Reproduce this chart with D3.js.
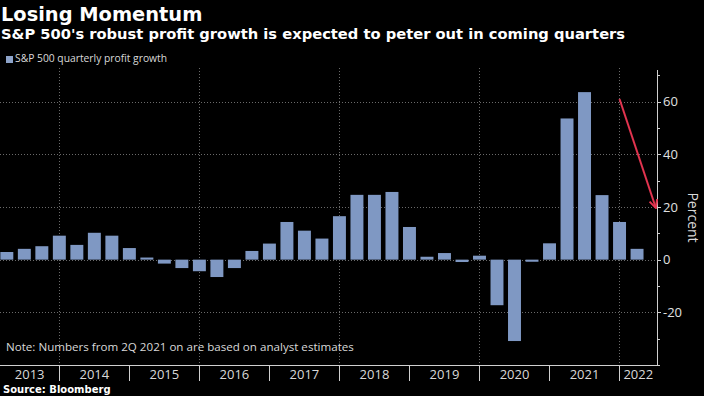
<!DOCTYPE html>
<meta charset="utf-8">
<style>
body { margin: 0; background: #000; }
svg { display: block; background: #000; }
.title { font-family: "DejaVu Sans", Verdana, sans-serif; font-weight: bold; fill: #fff; }
.lbl { font-family: "Open Sans", sans-serif; fill: #d9d9d9; }
.grid line { stroke: #6a6a6a; stroke-width: 1; stroke-dasharray: 1,2; shape-rendering: crispEdges; }
.yaxis path, .yaxis line, .xaxis line { stroke: #d0d0d0; shape-rendering: crispEdges; }
.yaxis text { font-family: "Open Sans", sans-serif; font-size: 13px; fill: #e0e0e0; }
.bar { fill: #7f98c3; }
</style>
<body>
<svg width="704" height="396"></svg>
<script src="https://d3js.org/d3.v7.min.js"></script>
<script>
// quarterly S&P 500 profit growth, %, 1Q 2013 .. 1Q 2022
var quarters = ["1Q 2013","2Q 2013","3Q 2013","4Q 2013",
                "1Q 2014","2Q 2014","3Q 2014","4Q 2014",
                "1Q 2015","2Q 2015","3Q 2015","4Q 2015",
                "1Q 2016","2Q 2016","3Q 2016","4Q 2016",
                "1Q 2017","2Q 2017","3Q 2017","4Q 2017",
                "1Q 2018","2Q 2018","3Q 2018","4Q 2018",
                "1Q 2019","2Q 2019","3Q 2019","4Q 2019",
                "1Q 2020","2Q 2020","3Q 2020","4Q 2020",
                "1Q 2021","2Q 2021","3Q 2021","4Q 2021",
                "1Q 2022"];
var growth = [2.9, 4.1, 5.1, 9.1,
              5.6, 10.2, 9.1, 4.4,
              0.8, -1.5, -3.2, -4.4,
              -6.6, -3.2, 3.3, 6.1,
              14.3, 11.0, 8.0, 16.5,
              24.6, 24.6, 25.7, 12.4,
              1.1, 2.5, -0.9, 1.5,
              -17.3, -30.9, -0.8, 6.2,
              53.6, 63.6, 24.5, 14.3,
              4.1];
var years = [2013, 2014, 2015, 2016, 2017, 2018, 2019, 2020, 2021, 2022];
var yTicks = [-20, 0, 20, 40, 60];
var yMinorTicks = [-40, -30, -10, 10, 30, 50, 70];
// arrow annotation: [quarter-end position, percent]
var arrowFrom = ["4Q 2021", 61];
var arrowTo = ["2Q 2022", 20];

var svg = d3.select("svg"),
    margin = {top: 70, right: 47, bottom: 31, left: 0},
    width = +svg.attr("width") - margin.left - margin.right,
    height = +svg.attr("height") - margin.top - margin.bottom;

// position of a quarter end, in quarters since the start of 2013
function qpos(label) {
  var parts = label.split(" ");
  return (+parts[1] - 2013) * 4 + (+parts[0][0]);
}
function ypos(year) { return (year - 2013) * 4; }

var x = d3.scaleLinear().domain([0.61, 38.14]).range([0, width]);
var y = d3.scaleLinear().domain([-40, 72]).range([height, 0]);
var barW = (x(1) - x(0)) * 0.74;

var g = svg.append("g")
    .attr("transform", "translate(" + margin.left + "," + margin.top + ")");

// gridlines
var grid = g.append("g").attr("class", "grid");
grid.selectAll(".hg").data(yTicks).enter().append("line")
    .attr("x1", 0).attr("x2", width)
    .attr("y1", function(d) { return y(d) + 0.5; })
    .attr("y2", function(d) { return y(d) + 0.5; });
grid.selectAll(".vg").data(years.filter(function(d) { return d % 2 == 0; })).enter().append("line")
    .attr("x1", function(d) { return x(ypos(d)); })
    .attr("x2", function(d) { return x(ypos(d)); })
    .attr("y1", -2).attr("y2", height);

// bars
g.selectAll(".bar")
    .data(growth)
  .enter().append("rect")
    .attr("class", "bar")
    .attr("x", function(d, i) { return x(qpos(quarters[i])) - barW / 2; })
    .attr("width", barW)
    .attr("y", function(d) { return y(Math.max(0, d)); })
    .attr("height", function(d) { return Math.abs(y(d) - y(0)); });

// right axis
g.append("g")
    .attr("class", "yaxis")
    .attr("transform", "translate(" + width + ",0)")
    .call(d3.axisRight(y).tickValues(yTicks).tickSize(4).tickSizeOuter(0).tickPadding(2)
      .tickFormat(function(d) { return d < 0 ? "-" + Math.abs(d) : d; }))
    .call(function(a) { a.select(".domain").attr("d", "M0.5," + y(72) + "V" + height); });
g.select(".yaxis").selectAll(".minor").data(yMinorTicks).enter().append("line")
    .attr("class", "minor")
    .attr("x1", 0).attr("x2", 3)
    .attr("y1", function(d) { return y(d) + 0.5; })
    .attr("y2", function(d) { return y(d) + 0.5; });

svg.append("text")
    .attr("class", "lbl")
    .attr("transform", "translate(" + (margin.left + width + 31) + "," + (margin.top + y(16)) + ") rotate(90)")
    .attr("text-anchor", "middle")
    .style("font-size", "14px")
    .text("Percent");

// bottom year axis
var xa = g.append("g").attr("class", "xaxis").attr("transform", "translate(0," + height + ")");
xa.append("line").attr("x1", 0).attr("x2", width + 0.5).attr("y1", 0.5).attr("y2", 0.5);
xa.selectAll(".sep").data(years.slice(1)).enter().append("line")
    .attr("x1", function(d) { return x(ypos(d)); })
    .attr("x2", function(d) { return x(ypos(d)); })
    .attr("y1", 0).attr("y2", 16);
xa.selectAll("text").data(years).enter().append("text")
    .attr("class", "lbl")
    .attr("x", function(d) {
      var a = Math.max(x(ypos(d)), 0), b = Math.min(x(ypos(d + 1)), width);
      return (a + b) / 2;
    })
    .attr("y", 14)
    .attr("text-anchor", "middle")
    .style("font-size", "13px")
    .text(function(d) { return d; });

// arrow
svg.append("defs").append("marker")
    .attr("id", "head")
    .attr("viewBox", "0 0 10 10")
    .attr("refX", 8).attr("refY", 5)
    .attr("markerWidth", 5).attr("markerHeight", 5)
    .attr("orient", "auto")
  .append("path")
    .attr("d", "M1,1L9,5L1,9")
    .attr("fill", "none")
    .attr("stroke", "#e3344f")
    .attr("stroke-width", 2);
g.append("line")
    .attr("x1", x(qpos(arrowFrom[0]))).attr("y1", y(arrowFrom[1]))
    .attr("x2", x(qpos(arrowTo[0])) + 1).attr("y2", y(arrowTo[1]))
    .attr("stroke", "#e3344f")
    .attr("stroke-width", 2)
    .attr("marker-end", "url(#head)");

// texts
svg.append("text").attr("class", "title").attr("x", 1).attr("y", 21)
    .style("font-size", "19.4px").text("Losing Momentum");
svg.append("text").attr("class", "title").attr("x", 1).attr("y", 39)
    .style("font-size", "14.7px")
    .text("S&P 500's robust profit growth is expected to peter out in coming quarters");

svg.append("rect").attr("x", 6).attr("y", 56).attr("width", 7).attr("height", 7).attr("fill", "#8da3c9");
svg.append("text").attr("class", "lbl").attr("x", 15).attr("y", 62)
    .style("font-size", "10.3px").text("S&P 500 quarterly profit growth");

svg.append("text").attr("class", "lbl").attr("x", 6).attr("y", 351)
    .style("font-size", "11.6px").text("Note: Numbers from 2Q 2021 on are based on analyst estimates");

svg.append("text").attr("class", "title").attr("x", 3).attr("y", 393)
    .style("font-size", "10px").text("Source: Bloomberg");
</script>
</body>
